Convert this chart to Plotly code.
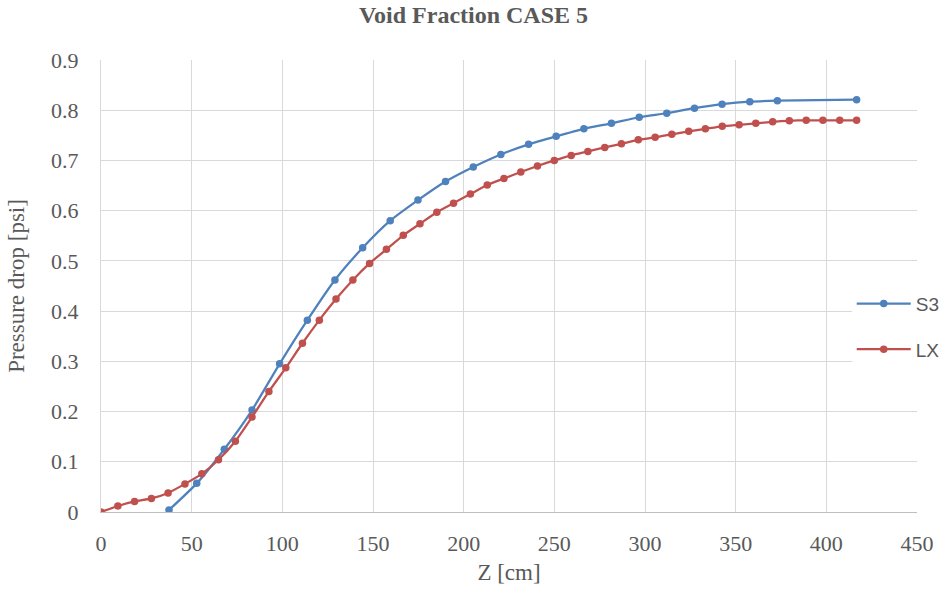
import plotly.graph_objects as go

# Axial position [cm] and pressure drop [psi] for the two models
z_s3 = [37.5, 52.8, 68.0, 83.3, 98.5, 113.8, 129.0, 144.3, 159.5, 174.8, 190.0, 205.3,
        220.5, 235.8, 251.0, 266.3, 281.5, 296.8, 312.0, 327.3, 342.5, 357.8, 373.0, 416.7]
dp_s3 = [0.004, 0.057, 0.125, 0.203, 0.295, 0.382, 0.462, 0.526, 0.580, 0.621, 0.658, 0.687,
         0.712, 0.732, 0.748, 0.763, 0.774, 0.786, 0.794, 0.804, 0.812, 0.817, 0.819, 0.821]

z_lx = [0.0, 9.3, 18.5, 27.8, 37.0, 46.3, 55.6, 64.8, 74.1, 83.3, 92.6, 101.9, 111.1, 120.4,
        129.6, 138.9, 148.1, 157.4, 166.7, 175.9, 185.2, 194.4, 203.7, 213.0, 222.2, 231.5,
        240.7, 250.0, 259.3, 268.5, 277.8, 287.0, 296.3, 305.6, 314.8, 324.1, 333.3, 342.6,
        351.9, 361.1, 370.4, 379.6, 388.9, 398.1, 407.4, 416.7]
dp_lx = [0.000, 0.012, 0.021, 0.027, 0.038, 0.056, 0.076, 0.104, 0.141, 0.189, 0.240, 0.287,
         0.336, 0.382, 0.424, 0.462, 0.495, 0.523, 0.551, 0.574, 0.597, 0.615, 0.633, 0.651,
         0.664, 0.677, 0.689, 0.700, 0.710, 0.718, 0.726, 0.733, 0.741, 0.746, 0.752, 0.758,
         0.763, 0.768, 0.771, 0.774, 0.777, 0.779, 0.780, 0.780, 0.780, 0.780]

x_ticks = [0, 50, 100, 150, 200, 250, 300, 350, 400, 450]
y_ticks = [0, 0.1, 0.2, 0.3, 0.4, 0.5, 0.6, 0.7, 0.8, 0.9]
y_tick_text = ["0", "0.1", "0.2", "0.3", "0.4", "0.5", "0.6", "0.7", "0.8", "0.9"]

BLUE = "#4F81BD"
RED = "#C0504D"
TEXT = "#595959"
GRID = "#D9D9D9"
SERIF = "Liberation Serif, Times New Roman, serif"

fig = go.Figure()
fig.add_trace(go.Scatter(
    x=z_s3, y=dp_s3, name="S3", legendgroup="s3", mode="lines+markers",
    line=dict(color=BLUE, width=2.25, shape="spline", smoothing=0.6),
    marker=dict(color=BLUE, size=7.5),
))
fig.add_trace(go.Scatter(
    x=z_lx, y=dp_lx, name="LX", legendgroup="lx", mode="lines+markers",
    line=dict(color=RED, width=2.25, shape="spline", smoothing=0.6),
    marker=dict(color=RED, size=7.5),
))

fig.update_layout(
    width=947, height=592,
    margin=dict(l=101, r=30, t=60, b=80, autoexpand=False),
    paper_bgcolor="white", plot_bgcolor="white",
    title=dict(text="<b>Void Fraction CASE 5</b>", x=0.5, xanchor="center",
               y=0.975, yref="container", yanchor="middle",
               font=dict(family=SERIF, size=24, color=TEXT)),
    legend=dict(x=0.92, xanchor="left", y=0.41, yanchor="middle",
                bgcolor="white", borderwidth=0, tracegroupgap=18,
                font=dict(family="Liberation Sans, Arial, sans-serif", size=19, color=TEXT),
                itemwidth=54),
    showlegend=True,
)
fig.update_xaxes(
    range=[0, 450], tickvals=x_ticks, showgrid=True, gridcolor=GRID, gridwidth=1,
    showline=True, linecolor="#BFBFBF", linewidth=1, zeroline=False, automargin=False,
    ticks="", ticklabelstandoff=12,
    tickfont=dict(family=SERIF, size=22, color=TEXT),
    title=dict(text="Z [cm]", font=dict(family=SERIF, size=23, color=TEXT), standoff=8),
)
fig.update_yaxes(
    range=[0, 0.9], tickvals=y_ticks, ticktext=y_tick_text, showgrid=True, gridcolor=GRID,
    gridwidth=1, showline=True, linecolor=GRID, linewidth=1, zeroline=False, automargin=False,
    ticks="", ticklabelstandoff=17,
    tickfont=dict(family=SERIF, size=22, color=TEXT),
    title=dict(text="Pressure drop [psi]", font=dict(family=SERIF, size=23, color=TEXT),
               standoff=20),
)

fig.write_html("out.html")
